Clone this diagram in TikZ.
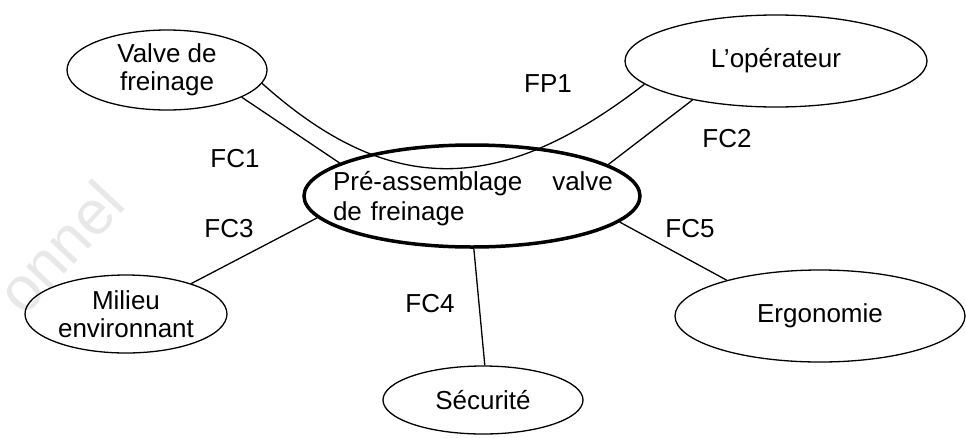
\documentclass[tikz,border=0pt]{standalone}
\usepackage{fontspec}
\setmainfont{Liberation Sans}
\usetikzlibrary{shapes.geometric}

\begin{document}
\begin{tikzpicture}[x=1pt, y=-1pt,
    fonction/.style={ellipse, draw, line width=1.3pt, inner sep=0pt, align=center, font=\fontsize{26}{28}\selectfont},
    lien/.style={line width=1.3pt},
    etiq/.style={font=\fontsize{26}{28}\selectfont}]
    \useasboundingbox (0,0) rectangle (966,437);
    % filigrane
    \node[text=black!9, rotate=47, font=\fontsize{62}{66}\selectfont, inner sep=0pt] at (60,247) (filigrane) {onnel};

    \node[fonction, line width=3.5pt, minimum width=336, minimum height=102] at (472,196) (systeme) {};
    \node[text width=280pt, font=\fontsize{26}{30}\selectfont] at (473,199) (titre) {Pré-assemblage\hspace{\fill}valve\\de freinage};

    \node[fonction, minimum width=200, minimum height=80] at (167,70) (valve) {Valve de\\freinage};
    \node[fonction, minimum width=302, minimum height=92] at (776,61) (operateur) {L’opérateur};
    \node[fonction, minimum width=202, minimum height=78] at (126,314) (milieu) {Milieu\\environnant};
    \node[fonction, minimum width=200, minimum height=68] at (483,400) (securite) {Sécurité};
    \node[fonction, minimum width=290, minimum height=92] at (820,316) (ergonomie) {Ergonomie};

    \draw[lien] (valve.-20) -- (systeme.166);
    \draw[lien] (valve.-8) .. controls (390,198) and (500,196) .. (operateur.-170);
    \draw[lien] (operateur.-155) -- (systeme.13);
    \draw[lien] (systeme.188) -- (milieu.25);
    \draw[lien] (systeme.-88) -- (securite.87);
    \draw[lien] (systeme.-10) -- (ergonomie.159);

    \node[etiq] at (548,84) (fp1) {FP1};
    \node[etiq] at (235,159) (fc1) {FC1};
    \node[etiq] at (727,139) (fc2) {FC2};
    \node[etiq] at (229,229) (fc3) {FC3};
    \node[etiq] at (430,304) (fc4) {FC4};
    \node[etiq] at (690,229) (fc5) {FC5};
\end{tikzpicture}
\end{document}
